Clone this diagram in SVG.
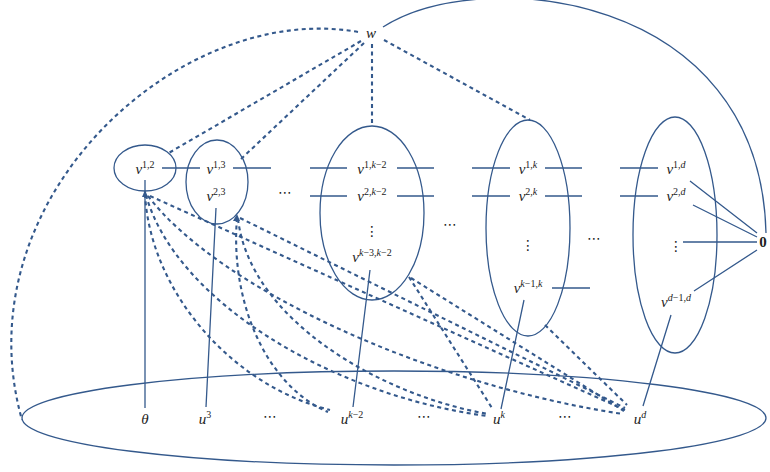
<svg xmlns="http://www.w3.org/2000/svg" width="770" height="472" viewBox="0 0 770 472">
<style>
.e{fill:none;stroke:#34598c;stroke-width:1.3}
.s{fill:none;stroke:#34598c;stroke-width:1.3}
.d{fill:none;stroke:#34598c;stroke-width:2.1;stroke-dasharray:4 3.5}
.t{font-family:"Liberation Serif",serif;font-size:15px;fill:#222;text-anchor:middle}
.i{font-style:italic}
.sup{font-size:10px}
.dots{font-family:"DejaVu Sans",sans-serif;font-size:14px;fill:#222;text-anchor:middle}
.tip{fill:#34598c}
</style>
<rect width="770" height="472" fill="#fff"/>
<g id="connectors">
<path class="s" d="M383,27 C480,-35 760,-10 766,233"/>
<path class="d" d="M358,32 C180,0 -40,200 22,420"/>
<path class="d" d="M361,41 L167,154"/>
<path class="d" d="M364,43 L241,159"/>
<path class="d" d="M372,44 L372,126"/>
<path class="d" d="M384,40 L530,120"/>
<path class="s" d="M162,168H200M233,168H271M310,168H347M397,168H434M310,196H347M397,196H434M472,168H510M545,168H582M472,196H510M545,196H582M552,288H590M620,168H658M620,196H658"/>
<path class="s" d="M690,181L757,233M693,205L757,237M683,242L757,242M694,291L757,250"/>
<path class="s" d="M145,180L145,408M216,208L206,407M370,270L353,407M524,300L501,409M671,315L643,406"/>
<path class="d" d="M145,194 C150,290 230,385 330,410"/>
<path class="d" d="M146,195 C175,300 330,395 487,416"/>
<path class="d" d="M148,196 C220,290 430,385 623,414"/>
<path class="d" d="M150,196 L625,410"/>
<path class="d" d="M237,218 C230,300 265,385 328,412"/>
<path class="d" d="M238,219 C250,320 380,395 488,414"/>
<path class="d" d="M240,218 L625,408"/>
<path class="d" d="M409,277 L492,408"/>
<path class="d" d="M411,278 L624,411"/>
<path class="d" d="M545,325 L627,405"/>
<polygon class="tip" points="145,190 142,197 148,197"/>
<polygon class="tip" points="237,214 233,221 240,221"/>
</g>
<g id="bottom-set"><ellipse class="e" cx="394" cy="418" rx="372" ry="47"/></g>
<g id="w"><text class="t i" x="371" y="38">w</text></g>
<g id="node-12">
<ellipse class="e" cx="145" cy="168" rx="31" ry="23"/>
<text class="t" x="145" y="174"><tspan class="i">v</tspan><tspan class="sup" dy="-6">1,2</tspan></text>
</g>
<g id="node-3">
<ellipse class="e" cx="217" cy="182" rx="31" ry="42"/>
<text class="t" x="216" y="174"><tspan class="i">v</tspan><tspan class="sup" dy="-6">1,3</tspan></text>
<text class="t" x="216" y="201"><tspan class="i">v</tspan><tspan class="sup" dy="-6">2,3</tspan></text>
</g>
<g id="hdots1"><text class="dots" x="285" y="197">⋯</text></g>
<g id="node-k2">
<ellipse class="e" cx="372" cy="213" rx="52" ry="87"/>
<text class="t" x="372" y="174"><tspan class="i">v</tspan><tspan class="sup" dy="-6">1,<tspan class="i">k</tspan>−2</tspan></text>
<text class="t" x="372" y="201"><tspan class="i">v</tspan><tspan class="sup" dy="-6">2,<tspan class="i">k</tspan>−2</tspan></text>
<text class="dots" x="372" y="236">⋮</text>
<text class="t" x="372" y="262"><tspan class="i">v</tspan><tspan class="sup" dy="-6"><tspan class="i">k</tspan>−3,<tspan class="i">k</tspan>−2</tspan></text>
</g>
<g id="hdots2"><text class="dots" x="450" y="229">⋯</text></g>
<g id="node-k">
<ellipse class="e" cx="528" cy="228" rx="42" ry="108"/>
<text class="t" x="528" y="174"><tspan class="i">v</tspan><tspan class="sup" dy="-6">1,<tspan class="i">k</tspan></tspan></text>
<text class="t" x="528" y="201"><tspan class="i">v</tspan><tspan class="sup" dy="-6">2,<tspan class="i">k</tspan></tspan></text>
<text class="dots" x="528" y="250">⋮</text>
<text class="t" x="528" y="293"><tspan class="i">v</tspan><tspan class="sup" dy="-6"><tspan class="i">k</tspan>−1,<tspan class="i">k</tspan></tspan></text>
</g>
<g id="hdots3"><text class="dots" x="594" y="243">⋯</text></g>
<g id="node-d">
<ellipse class="e" cx="675" cy="235" rx="42" ry="118"/>
<text class="t" x="676" y="174"><tspan class="i">v</tspan><tspan class="sup" dy="-6">1,<tspan class="i">d</tspan></tspan></text>
<text class="t" x="676" y="201"><tspan class="i">v</tspan><tspan class="sup" dy="-6">2,<tspan class="i">d</tspan></tspan></text>
<text class="dots" x="676" y="251">⋮</text>
<text class="t" x="676" y="307"><tspan class="i">v</tspan><tspan class="sup" dy="-6"><tspan class="i">d</tspan>−1,<tspan class="i">d</tspan></tspan></text>
</g>
<g id="zero"><text class="t" x="763" y="247" font-weight="bold">0</text></g>
<g id="bottom-labels">
<text class="t i" x="145" y="424">θ</text>
<text class="t" x="205" y="424"><tspan class="i">u</tspan><tspan class="sup" dy="-6">3</tspan></text>
<text class="dots" x="270" y="421">⋯</text>
<text class="t" x="352" y="424"><tspan class="i">u</tspan><tspan class="sup" dy="-6"><tspan class="i">k</tspan>−2</tspan></text>
<text class="dots" x="424" y="421">⋯</text>
<text class="t" x="499" y="424"><tspan class="i">u</tspan><tspan class="sup" dy="-6"><tspan class="i">k</tspan></tspan></text>
<text class="dots" x="565" y="421">⋯</text>
<text class="t" x="640" y="424"><tspan class="i">u</tspan><tspan class="sup" dy="-6"><tspan class="i">d</tspan></tspan></text>
</g>
</svg>
